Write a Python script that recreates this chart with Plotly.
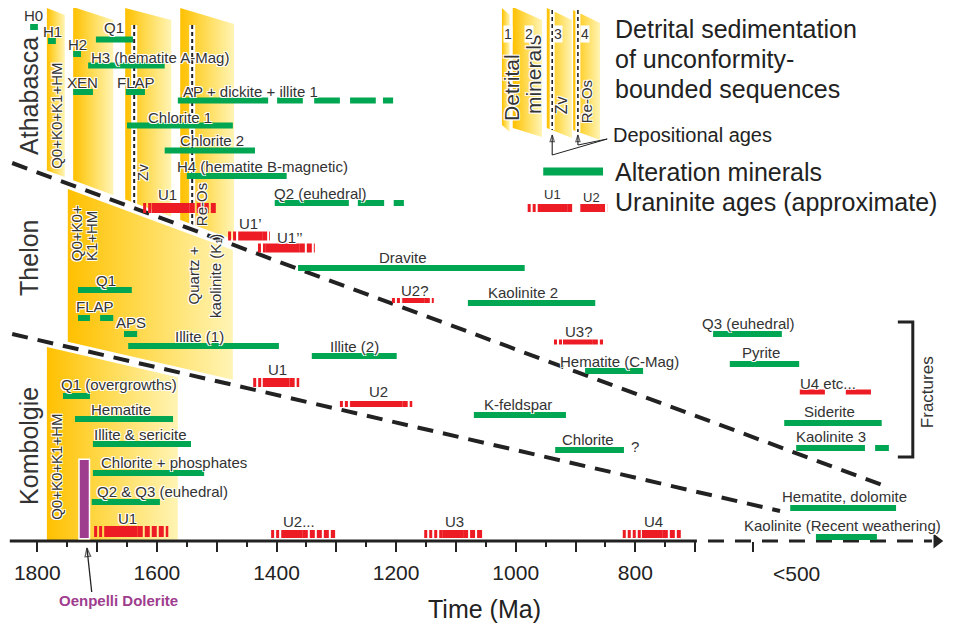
import plotly.graph_objects as go

# ------------------------------------------------------------------
# Data: ages in Ma; "row" = vertical slot of an item (0 = top of chart)
# ------------------------------------------------------------------
# Alteration minerals (green bars): oldest age, youngest age, row
alt_old = [1812, 1782, 1740, 1702, 1715, 1740, 1652, 1565, 1399, 1337, 1277, 1222,
           1650, 1587, 1550, 1403, 1264, 1204,
           1364, 1080, 1732, 1732, 1695, 1655, 1648, 1341, 884,
           670, 642, 551, 531, 399, 541, 498,
           1757, 1737, 1707, 1707, 1709, 1070, 934]
alt_young = [1799, 1769, 1727, 1640, 1587, 1707, 1620, 1414, 1356, 1294, 1234, 1205,
             1473, 1436, 1383, 1279, 1220, 1187,
             985, 867, 1642, 1712, 1673, 1633, 1396, 1199, 787,
             555, 526, 388, 416, 376, 364, 396,
             1712, 1573, 1543, 1521, 1595, 916, 819]
alt_row = [27, 41, 54, 39.5, 65.5, 92, 92, 100.5, 100.5, 100.5, 100.5, 100.5,
           125.5, 150.5, 176, 203, 203, 203,
           268, 303, 290, 318, 318, 334, 346, 356, 371,
           334, 364, 423, 448, 448, 508, 537,
           396, 419, 444, 473, 502, 415, 450]

# Uraninite ages (red bars): fading start, firm start, firm end, fading end
u_outer_old = [1623, 1481, 1431, 1207, 936, 1439, 1294, 1705, 1409, 1153, 821]
u_core_old = [1609, 1464, 1419, 1189, 921, 1423, 1277, 1687, 1391, 1123, 789]
u_core_young = [1545, 1424, 1361, 1152, 871, 1378, 1189, 1632, 1356, 1088, 754]
u_outer_young = [1500, 1411, 1336, 1137, 854, 1362, 1173, 1581, 1302, 1056, 724]
u_row = [208, 236, 248, 300.5, 342, 382.5, 404, 531.5, 534, 534, 534]
u_thick = [10, 9, 9, 5, 5, 9, 6, 11, 8, 8, 8]
# "U4 etc..." in fractures (firm segments)
u4etc_old = [525, 448]
u4etc_young = [483, 406]
u4etc_row = 392

# Oenpelli Dolerite intrusion
oenpelli_old, oenpelli_young = 1729, 1714
oenpelli_rows = [460, 538]

# Bar labels: text, age position (Ma), row
lab_text = ["H0", "H1", "H2", "Q1", "H3 (hematite A-Mag)", "XEN", "FLAP",
            "AP + dickite + illite 1", "Chlorite 1", "Chlorite 2",
            "H4 (hematite B-magnetic)", "Q2 (euhedral)", "U1", "U1’", "U1’’",
            "Dravite", "U2?", "Kaolinite 2", "U3?", "Hematite (C-Mag)",
            "Q1", "FLAP", "APS", "Illite (1)", "Illite (2)", "U1", "U2",
            "K-feldspar", "Chlorite", "?", "Q3 (euhedral)", "Pyrite", "U4 etc...",
            "Siderite", "Kaolinite 3", "Hematite, dolomite",
            "Kaolinite (Recent weathering)", "Q1 (overgrowths)", "Hematite",
            "Illite & sericite", "Chlorite + phosphates", "Q2 & Q3 (euhedral)",
            "U1", "U2...", "U3", "U4"]
lab_age = [1806, 1775, 1732, 1672, 1595, 1724, 1635, 1444, 1561, 1508, 1424, 1326,
           1582, 1443, 1377, 1189, 1168, 988, 894, 827, 1685, 1704, 1643, 1528,
           1269, 1398, 1230, 996, 879, 801, 610, 590, 478, 476, 473, 451, 453,
           1663, 1660, 1627, 1571, 1590, 1650, 1362, 1103, 769]
lab_row = [15, 31, 44, 27, 57, 82, 82, 91, 117, 140, 166, 193, 194, 223, 237,
           257, 290, 292, 331, 361, 280, 306, 322, 336, 346, 369, 391, 404, 439,
           446, 323, 352, 383, 411, 436, 496, 525, 384, 409, 434, 462, 491, 518,
           521, 521, 521]

# Basin names
basin_names = ["Athabasca", "Thelon", "Kombolgie"]
basin_rows = [96, 258, 446]

# Unconformity-bounded boundaries (age, row) end points
bound_ath_thel = ([1842, 378], [163, 487])
bound_thel_komb = ([1842, 558], [334, 511])

# Detrital sedimentation panels: [old, young] ages, top rows [left, right]
ath_panels = [([1784, 1754], [8, 15]), ([1740, 1673], [7, 20]),
              ([1653, 1576], [8, 20]), ([1561, 1471], [8, 24])]
thelon_panel = [1749, 1473]
komb_panel = [1784, 1565]
# Depositional ages (Zv, Re-Os) in Athabasca
dep_ages = [1638, 1541]

# Axis ticks
tick_vals = [1800, 1600, 1400, 1200, 1000, 800]
tick_text = ["1800", "1600", "1400", "1200", "1000", "800"]
long_unlabelled = [1700, 1500, 1300, 1100, 900, 700, 603]
minor_vals = [1750, 1650, 1550, 1450, 1350, 1250, 1150, 1050, 950, 850, 750]

# ------------------------------------------------------------------
GREEN = "#00A651"
RED = "#ED1C24"
INK = "#333333"
PURPLE = "#9E3D8E"
FONT = "Liberation Sans, Arial, Helvetica, sans-serif"
HALO = "-1px -1px 0 #fff, 1px -1px 0 #fff, -1px 1px 0 #fff, 1px 1px 0 #fff"
YSCALE = [[0, "#FFC000"], [0.45, "#FFDA50"], [1, "#FFF4B5"]]
XRANGE = [1849.0, 255.4]
AXPOS = 1 - 533 / 629

fig = go.Figure()


def bnd(line, x):
    (x0, x1), (y0, y1) = line
    return y0 + (x - x0) / (x1 - x0) * (y1 - y0)


def panel(xs, ys, old, young):
    fig.add_trace(go.Scatter(
        x=xs + [xs[0]], y=ys + [ys[0]], mode="lines", fill="toself",
        line=dict(width=0, color="rgba(0,0,0,0)"),
        fillgradient=dict(type="horizontal", colorscale=YSCALE, start=old, stop=young),
        hoverinfo="skip", showlegend=False))


# Athabasca panels
for (o, y), (tl, tr) in ath_panels:
    panel([o, y, y, o], [tl, tr, bnd(bound_ath_thel, y), bnd(bound_ath_thel, o)], o, y)
# Thelon panel
o, y = thelon_panel
panel([o, y, y, o], [bnd(bound_ath_thel, o), bnd(bound_ath_thel, y),
                     bnd(bound_thel_komb, y), bnd(bound_thel_komb, o)], o, y)
# Kombolgie panel
o, y = komb_panel
panel([o, y, y, o], [bnd(bound_thel_komb, o), bnd(bound_thel_komb, y), 541, 541], o, y)

# Legend mini panels
leg_panels = [([1023, 1010], [8, 15], [125, 132]), ([1005, 956], [7, 20], [128, 137]),
              ([948, 906], [8, 20], [128, 138]), ([904, 859], [10, 23], [130, 140])]
for (o, y), (tl, tr), (bl, br) in leg_panels:
    panel([o, y, y, o], [tl, tr, br, bl], o, y)


def line(x, y, color, width, dash="solid"):
    fig.add_trace(go.Scatter(x=x, y=y, mode="lines",
                             line=dict(color=color, width=width, dash=dash),
                             hoverinfo="skip", showlegend=False))


def arrow(x, y, width=1.2, size=8):
    fig.add_trace(go.Scatter(
        x=x, y=y, mode="lines+markers", line=dict(color="#222", width=width),
        marker=dict(symbol="arrow-open", size=[0, size], angleref="previous",
                    color="#222", line=dict(color="#222", width=width)),
        hoverinfo="skip", showlegend=False))


# Depositional-age dashed lines
for a in dep_ages:
    yb = bnd(bound_ath_thel, a)
    line([a, a], [25, yb], "white", 6)
    line([a, a], [25, yb], "#222", 2, "4px,3px")
for a, (t, b) in zip([939, 896], [(10, 130), (10, 132)]):
    line([a, a], [t, b], "white", 5)
    line([a, a], [t, b], "#222", 1.6, "4px,3px")

# Boundary dashed lines
for bl in (bound_ath_thel, bound_thel_komb):
    line(bl[0], bl[1], "white", 10)
    line(bl[0], bl[1], "#222", 4, "16px,10px")

# Time axis line
line([1846, 697], [541, 541], "#222", 3)
line([678.5, 304], [541, 541], "#222", 3, "16px,11px")
fig.add_trace(go.Scatter(x=[296], y=[541], mode="markers",
                         marker=dict(symbol="triangle-right", size=13, color="#222"),
                         hoverinfo="skip", showlegend=False))

# Green bars
gx, gy = [], []
for o, y, r in zip(alt_old, alt_young, alt_row):
    gx += [o, y, None]
    gy += [r, r, None]
fig.add_trace(go.Scatter(x=gx, y=gy, mode="lines", line=dict(color=GREEN, width=6),
                         hoverinfo="skip", showlegend=False))
# legend green bar
line([954, 854], [171.5, 171.5], GREEN, 8)


# Red bars
def uran(oo, co, cy, oy, r, w):
    if oo != co:
        line([oo, co], [r, r], RED, w, "3px,2px")
    line([co, cy], [r, r], RED, w)
    if cy != oy:
        line([cy, oy], [r, r], RED, w, "5px,2px")


for args in zip(u_outer_old, u_core_old, u_core_young, u_outer_young, u_row, u_thick):
    uran(*args)
for o, y in zip(u4etc_old, u4etc_young):
    line([o, y], [u4etc_row, u4etc_row], RED, 5)
# legend red bars
uran(980, 963, 914, 904, 208, 8)
uran(892, 892, 859, 847, 208, 8)

# Oenpelli Dolerite
mid = (oenpelli_old + oenpelli_young) / 2
line([mid, mid], [oenpelli_rows[0] - 1.5, oenpelli_rows[1] + 1.5], "white", 12)
line([mid, mid], oenpelli_rows, PURPLE, 9)
arrow([1709, 1717], [592, 548], width=1.3, size=9)

# Fractures bracket
line([361, 336, 336, 361], [322, 322, 457, 457], "#222", 3)
# Depositional ages leader lines and arrows
line([939, 847], [155, 139], "#222", 1)
line([896, 847], [145, 139], "#222", 1)
arrow([939, 939], [155, 135], width=1.1, size=7)
arrow([896, 896], [145, 135], width=1.1, size=7)

# invisible trace carrying the secondary tick axis
fig.add_trace(go.Scatter(x=[XRANGE[0]], y=[8], xaxis="x2", mode="markers",
                         marker=dict(size=0, opacity=0), hoverinfo="skip",
                         showlegend=False))

anns = []


def txt(text, x, y, size=15, angle=0, color=INK, xanchor="center", yanchor="middle",
        halo=True, **kw):
    f = dict(size=size, color=color, family=FONT)
    if halo:
        f["shadow"] = HALO
    anns.append(dict(text=text, x=x, y=y, xref="x", yref="y", showarrow=False,
                     textangle=angle, font=f, xanchor=xanchor, yanchor=yanchor, **kw))


for t, a, r in zip(lab_text, lab_age, lab_row):
    txt(t, a, r)

for n, r in zip(basin_names, basin_rows):
    txt(n, 1814, r, size=25, angle=-90)

txt("Q0+K0+K1+HM", 1769, 116, angle=-90)
txt("Q0+K0+", 1735, 263, angle=-90, yanchor="bottom")
txt("K1+HM", 1710, 263, angle=-90, yanchor="bottom")
txt("Q0+K0+K1+HM", 1769, 467, angle=-90)
txt("Quartz +", 1539, 275, angle=-90)
txt("kaolinite (K₁)", 1503, 276, angle=-90)
txt("Zv", 1625, 172, angle=-90)
txt("Re-Os", 1526, 205, angle=-90)
txt("Fractures", 312, 392, size=17, angle=-90)

# legend texts
txt("Detrital", 1008, 87, size=21, angle=-90)
txt("minerals", 971, 75, size=21, angle=-90)
txt("Zv", 924, 105, size=16, angle=-90)
txt("Re-Os", 882, 102, size=15, angle=-90)
for n, a in zip(["1", "2", "3", "4"], [1013, 978, 929, 884]):
    txt(n, a, 34, size=14, halo=False, bgcolor="white", borderpad=0)
txt("U1", 938, 194, size=13)
txt("U2", 874, 197, size=13)
for t, r in zip(["Detrital sedimentation", "of unconformity-", "bounded sequences"], [29, 59, 89]):
    txt(t, 838, r, size=25, xanchor="left", color="#222")
txt("Depositional ages", 840, 135, size=20, xanchor="left", color="#222")
txt("Alteration minerals", 838, 172, size=25, xanchor="left", color="#222")
txt("Uraninite ages (approximate)", 838, 202, size=25, xanchor="left", color="#222")

# axis extra label
txt("&lt;500", 530, 573, size=21, color="#222", halo=False)
# Oenpelli label
txt("<b>Oenpelli Dolerite</b>", 1665, 600, size=15, color=PURPLE, halo=False)

# The page body has an 8px margin; ranges are set so that the chart lands on
# the same screen pixels as the reference.
fig.update_layout(
    width=953, height=629, margin=dict(l=0, r=0, t=0, b=0),
    paper_bgcolor="white", plot_bgcolor="white", showlegend=False,
    annotations=anns,
    xaxis=dict(range=XRANGE, domain=[0, 1], anchor="free",
               position=AXPOS, showgrid=False, zeroline=False,
               showline=False, ticks="outside", tickvals=tick_vals, ticktext=tick_text,
               ticklen=10, tickwidth=2, tickcolor="#222", ticklabelstandoff=3,
               tickfont=dict(size=21, color="#222", family=FONT),
               minor=dict(tickvals=minor_vals, ticks="outside", ticklen=5,
                          tickwidth=2, tickcolor="#222"),
               title=dict(text="Time (Ma)", font=dict(size=25, color="#222", family=FONT),
                          standoff=17),
               automargin=False, fixedrange=True),
    xaxis2=dict(range=XRANGE, domain=[0, 1], anchor="free", overlaying="x",
                position=AXPOS, side="bottom", showgrid=False, zeroline=False,
                showline=False, ticks="outside", tickvals=long_unlabelled,
                showticklabels=False, ticklen=10, tickwidth=2, tickcolor="#222",
                automargin=False, fixedrange=True),
    yaxis=dict(range=[637, 8], domain=[0, 1], visible=False, fixedrange=True),
)

fig.write_html("out.html")
